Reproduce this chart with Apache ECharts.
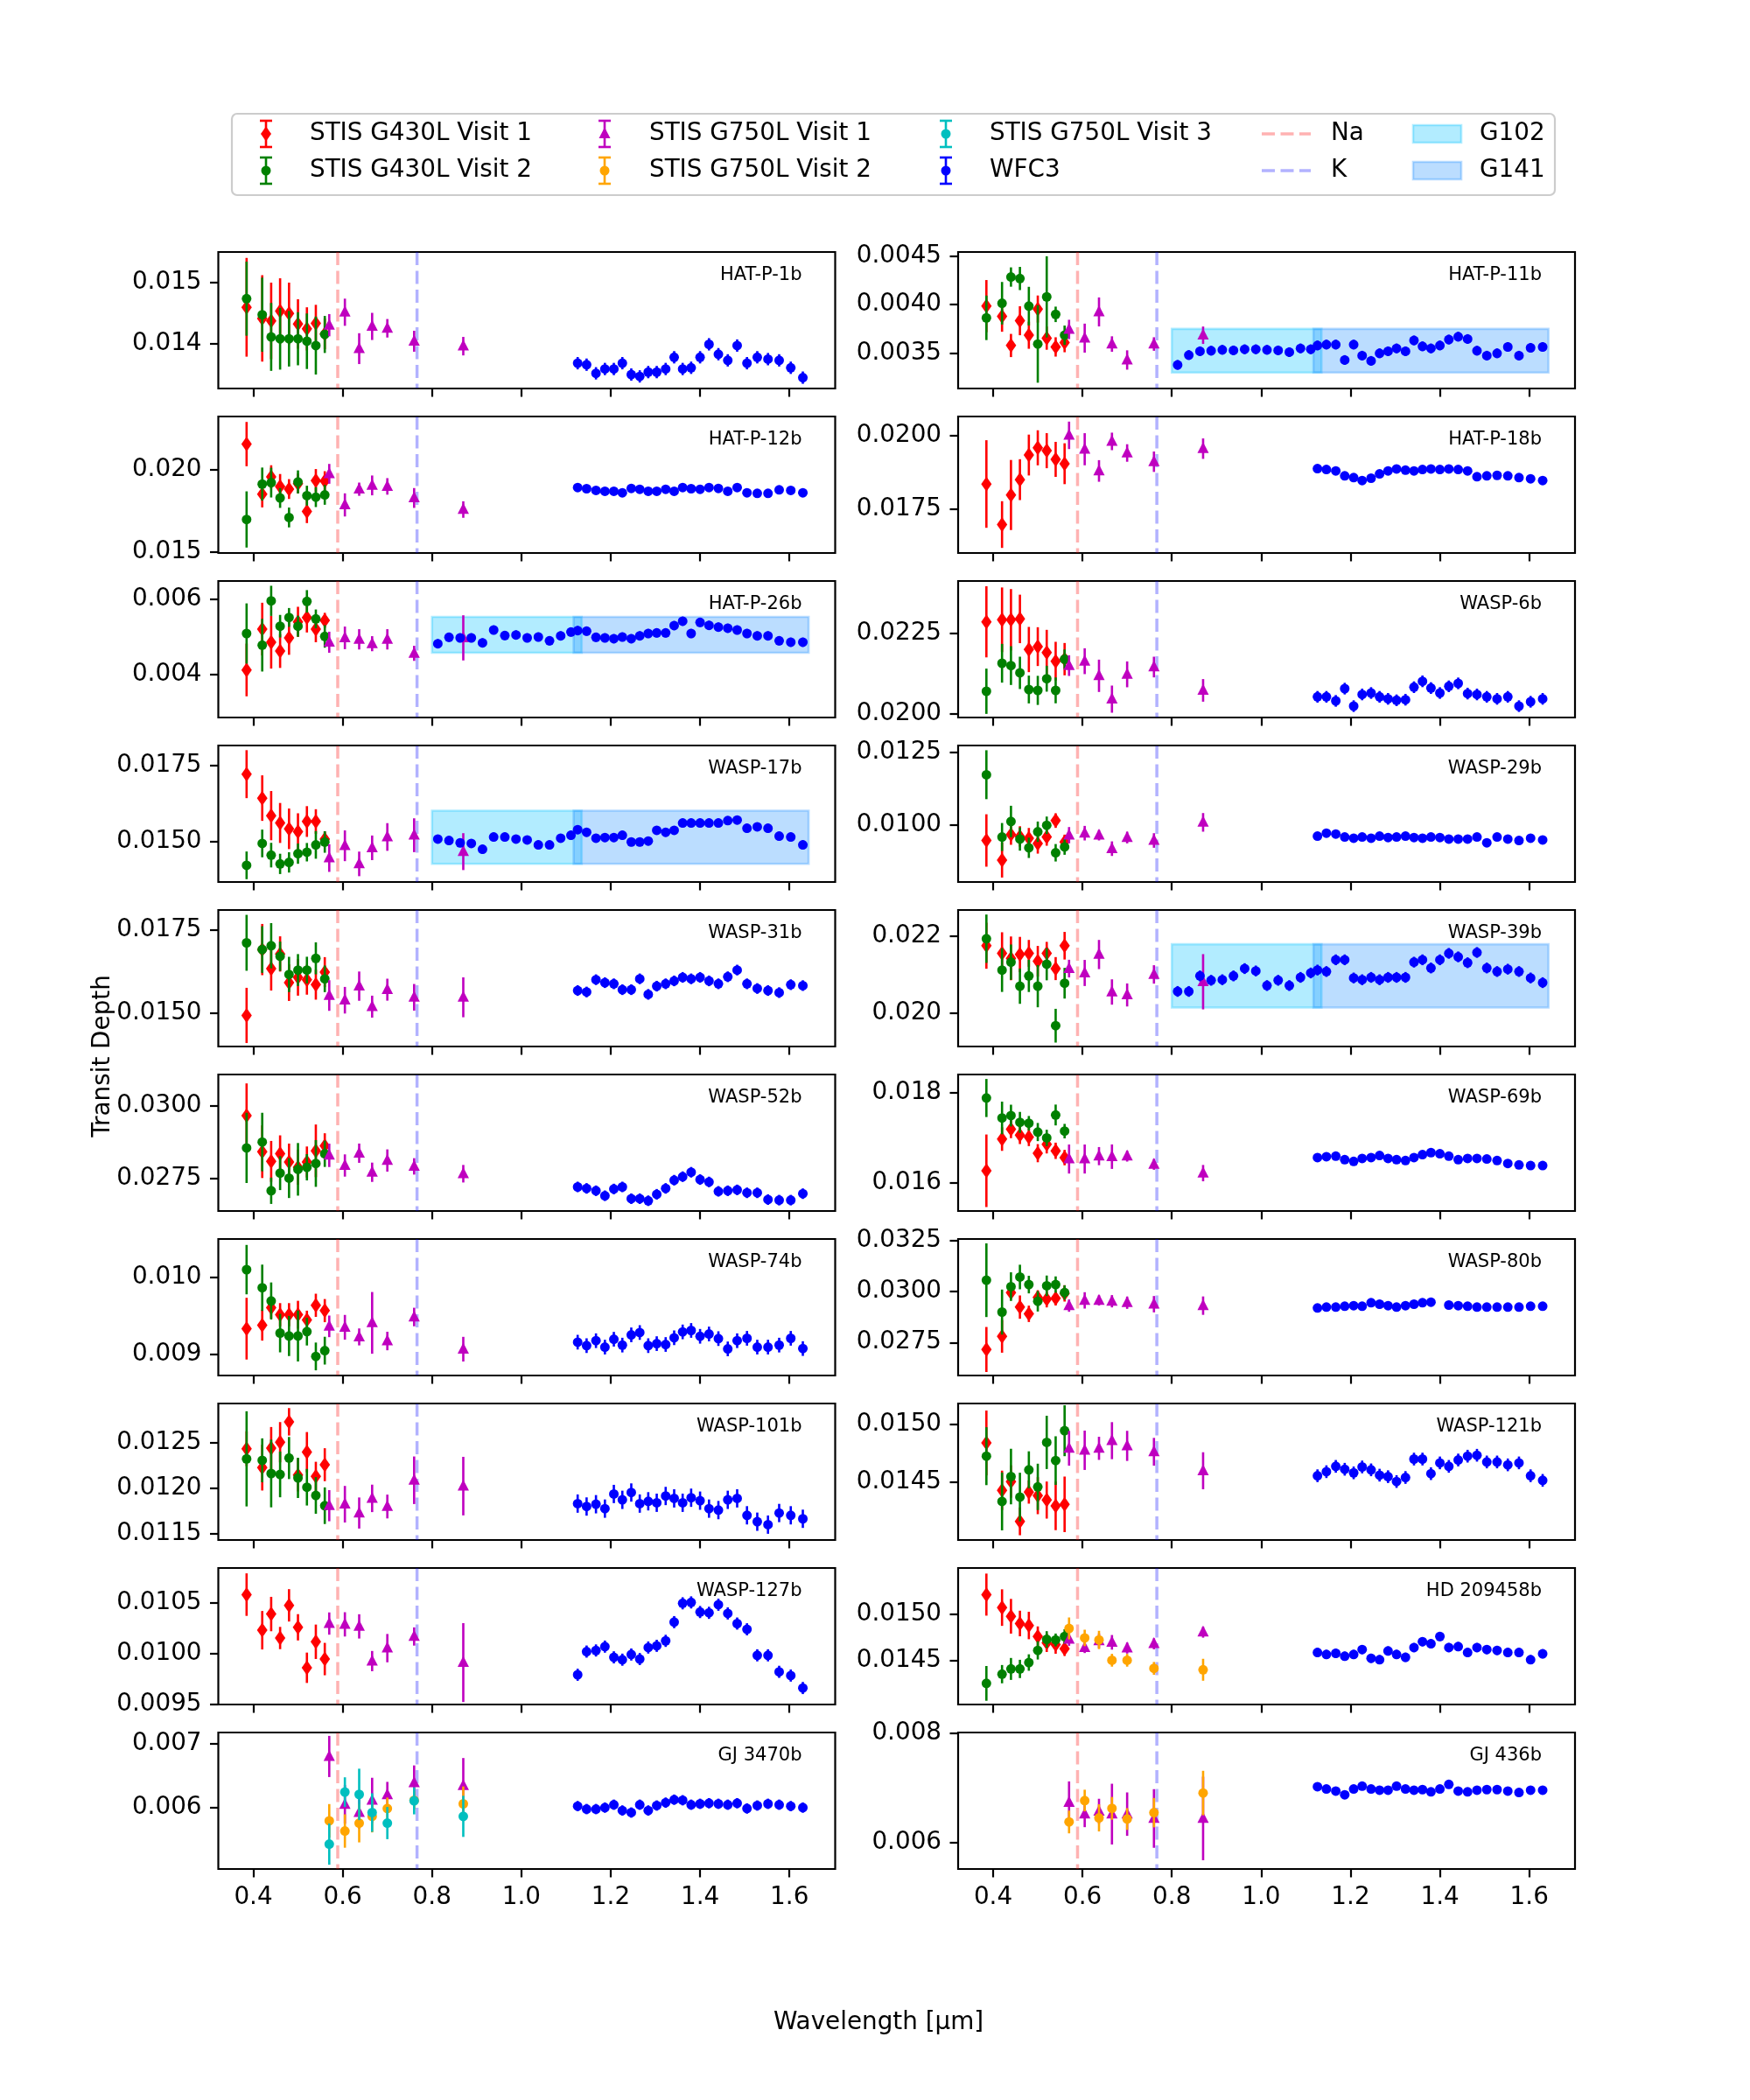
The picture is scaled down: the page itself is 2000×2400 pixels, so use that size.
<!DOCTYPE html>
<html>
<head>
<meta charset="utf-8">
<script src="https://cdn.jsdelivr.net/npm/echarts@6/dist/echarts.min.js"></script>
<style>
  html, body { margin: 0; padding: 0; background: #fff; }
  #chart { width: 2000px; height: 2400px; }
</style>
</head>
<body>
<div id="chart"></div>
<script>
// wavelength grids (micron)
const g430Wl = [0.385, 0.42, 0.44, 0.46, 0.48, 0.50, 0.52, 0.54, 0.56];
const g750Wl = [0.57, 0.605, 0.637, 0.666, 0.70, 0.76, 0.87];
const g102Wl = [0.813, 0.838, 0.863, 0.888, 0.913, 0.938, 0.963, 0.988, 1.013, 1.038, 1.063, 1.088, 1.111];
const wfcWl = [1.126, 1.146, 1.167, 1.187, 1.207, 1.226, 1.246, 1.265, 1.284, 1.303, 1.323, 1.342, 1.361,
  1.380, 1.400, 1.420, 1.441, 1.462, 1.483, 1.505, 1.528, 1.552, 1.577, 1.603, 1.630];
const xTicks = [0.4, 0.6, 0.8, 1.0, 1.2, 1.4, 1.6];
const naLine = 0.589;
const kLine = 0.7665;
const g102Band = [0.80, 1.135];
const g141Band = [1.117, 1.643];

// [depth, error] pairs for STIS, plain depths for WFC3
const hatP1b_g430v1 = [[0.01459,0.0008],[0.01441,0.0007],[0.01437,0.00062],[0.01453,0.00053],[0.01449,0.0005],[0.01432,0.0004],[0.01424,0.00035],[0.01433,0.0003],[0.01416,0.00025]];
const hatP1b_g430v2 = [[0.01473,0.0006],[0.01447,0.0006],[0.01411,0.00055],[0.01408,0.0005],[0.01408,0.00045],[0.01408,0.00043],[0.01404,0.00045],[0.01397,0.00047],[0.01415,0.0003]];
const hatP1b_g750v1 = [[0.0143,0.00018],[0.01451,0.00022],[0.01392,0.00025],[0.01428,0.00022],[0.01425,0.00015],[0.01404,0.00017],[0.01396,0.00015]];
const hatP1b_wfc = [0.013684,0.01366,0.01352,0.01359,0.01359,0.013684,0.0135,0.01347,0.01354,0.01354,0.01359,0.01378,0.01359,0.01361,0.01378,0.01399,0.01383,0.01373,0.01397,0.013684,0.01378,0.01375,0.01373,0.01361,0.01345];
const hatP1b_wfcErr = 0.0001;

const hatP11b_g430v1 = [[0.003985,0.00027],[0.00388,0.00016],[0.003578,0.00012],[0.003834,0.00015],[0.003684,0.00014],[0.003955,0.00014],[0.003654,0.00012],[0.003563,0.0001],[0.003608,0.0001]];
const hatP11b_g430v2 = [[0.003864,0.00023],[0.004015,0.00022],[0.004286,0.0001],[0.004271,0.00012],[0.003985,0.0002],[0.003593,0.0004],[0.004081,0.00042],[0.0039,0.00008],[0.003684,0.0001]];
const hatP11b_g750v1 = [[0.003744,0.0001],[0.003654,0.00015],[0.003925,0.00015],[0.003593,0.00008],[0.003428,0.0001],[0.003593,0.00007],[0.003684,0.00009]];
const hatP11b_g102 = [0.003377,0.003479,0.003518,0.003524,0.003533,0.003527,0.003539,0.003539,0.003533,0.003527,0.003509,0.003548,0.003539];
const hatP11b_wfc = [0.003578,0.003587,0.003587,0.003428,0.003587,0.003473,0.003419,0.003497,0.003518,0.003548,0.003518,0.00363,0.003569,0.003548,0.003578,0.003639,0.003669,0.003645,0.003524,0.003473,0.003497,0.003563,0.003473,0.003554,0.003563];
const hatP11b_wfcErr = 0.00005;
const hatP11b_box = [0.003298, 0.00375];

const hatP12b_g430v1 = [[0.02154,0.00134],[0.01851,0.0008],[0.01956,0.0007],[0.01898,0.00075],[0.01882,0.0006],[0.01915,0.0006],[0.01746,0.0007],[0.01933,0.0007],[0.0193,0.0006]];
const hatP12b_g430v2 = [[0.01698,0.0017],[0.01912,0.001],[0.01921,0.0009],[0.01828,0.0006],[0.0171,0.0006],[0.01925,0.0007],[0.01842,0.0006],[0.01833,0.0006],[0.01847,0.0006]];
const hatP12b_g750v1 = [[0.01974,0.0006],[0.01786,0.0007],[0.01881,0.0004],[0.01904,0.0006],[0.01898,0.0005],[0.01828,0.0006],[0.01758,0.0005]];
const hatP12b_wfc = [0.018912,0.018842,0.018737,0.018684,0.018684,0.018596,0.01886,0.018807,0.018684,0.018684,0.018807,0.018684,0.018912,0.018842,0.018807,0.018912,0.01886,0.018684,0.018912,0.018596,0.018561,0.018561,0.018772,0.018737,0.018596];
const hatP12b_wfcErr = 0.00018;

const hatP18b_g430v1 = [[0.018343,0.0015],[0.016954,0.0008],[0.017966,0.0012],[0.018492,0.0007],[0.019335,0.0007],[0.019583,0.0006],[0.019484,0.0006],[0.019187,0.0006],[0.019038,0.0007]];
const hatP18b_g750v1 = [[0.02001,0.00047],[0.019534,0.00055],[0.01879,0.00037],[0.019802,0.0003],[0.019405,0.0003],[0.019107,0.00035],[0.019554,0.00035]];
const hatP18b_wfc = [0.018869,0.01884,0.01879,0.018621,0.018562,0.018462,0.018542,0.01869,0.01879,0.018859,0.018819,0.01879,0.01884,0.018859,0.01884,0.018859,0.01884,0.01879,0.018591,0.018621,0.01864,0.018621,0.018562,0.018522,0.018462];
const hatP18b_wfcErr = 0.00012;

const hatP26b_g430v1 = [[0.004116,0.0007],[0.005202,0.0007],[0.004853,0.0007],[0.00462,0.00045],[0.004969,0.00045],[0.005395,0.0004],[0.005512,0.0004],[0.005202,0.00035],[0.005434,0.0002]];
const hatP26b_g430v2 = [[0.005085,0.0008],[0.004775,0.0007],[0.005953,0.0004],[0.005279,0.0003],[0.005512,0.00025],[0.005279,0.00028],[0.005938,0.0003],[0.005473,0.00025],[0.005008,0.0003]];
const hatP26b_g750v1 = [[0.004853,0.00028],[0.004969,0.0003],[0.00493,0.00027],[0.004814,0.0002],[0.00493,0.00027],[0.004558,0.0002],[0.004969,0.0006]];
const hatP26b_g102 = [0.004814,0.004984,0.004969,0.004969,0.004837,0.005178,0.005031,0.005047,0.004969,0.004992,0.004891,0.005023,0.005124];
const hatP26b_wfc = [0.005163,0.005147,0.004984,0.004969,0.004946,0.004992,0.004946,0.005023,0.005085,0.005101,0.005101,0.005295,0.005411,0.005085,0.00538,0.005302,0.005256,0.005225,0.005178,0.005085,0.005023,0.005023,0.004891,0.004853,0.004853];
const hatP26b_wfcErr = 0.00012;
const hatP26b_box = [0.004574, 0.005527];

const wasp6b_g430v1 = [[0.022843,0.0011],[0.022906,0.001],[0.022906,0.00095],[0.022933,0.00075],[0.021986,0.0007],[0.022076,0.0006],[0.021895,0.0007],[0.021625,0.0006],[0.021688,0.0005]];
const wasp6b_g430v2 = [[0.020695,0.0007],[0.021561,0.0006],[0.021489,0.0006],[0.021264,0.0005],[0.020749,0.00043],[0.020722,0.00045],[0.021083,0.0004],[0.020722,0.0004],[0.021688,0.0003]];
const wasp6b_g750v1 = [[0.021489,0.00032],[0.021625,0.0004],[0.021173,0.0005],[0.020451,0.00042],[0.021218,0.0004],[0.021444,0.00032],[0.020722,0.00035]];
const wasp6b_wfc = [0.020523,0.020523,0.020397,0.020776,0.020235,0.020596,0.020641,0.020523,0.02046,0.020415,0.020433,0.020821,0.021002,0.020794,0.020641,0.020848,0.020939,0.020623,0.020596,0.020523,0.02046,0.020523,0.020235,0.02037,0.02046];
const wasp6b_wfcErr = 0.00018;

const wasp17b_g430v1 = [[0.017205,0.00078],[0.016426,0.00074],[0.015856,0.0008],[0.015618,0.00065],[0.015428,0.00066],[0.015333,0.0006],[0.015665,0.0005],[0.015665,0.0004],[0.015095,0.00025]];
const wasp17b_g430v2 = [[0.01424,0.00045],[0.014952,0.00045],[0.014572,0.0004],[0.014287,0.00033],[0.014335,0.00033],[0.01462,0.00033],[0.014667,0.0003],[0.014905,0.00045],[0.015,0.00035]];
const wasp17b_g750v1 = [[0.014477,0.00045],[0.014876,0.0005],[0.014287,0.0004],[0.01481,0.0004],[0.015162,0.00045],[0.015219,0.00055],[0.014686,0.0006]];
const wasp17b_g102 = [0.015095,0.015048,0.014971,0.014952,0.014762,0.015162,0.015162,0.015095,0.015067,0.014905,0.014905,0.015124,0.015219];
const wasp17b_wfc = [0.015399,0.015314,0.015124,0.015143,0.015143,0.015219,0.015,0.015,0.015029,0.01538,0.015314,0.01538,0.015618,0.015618,0.015618,0.015618,0.015618,0.015694,0.015713,0.015447,0.015494,0.015447,0.01519,0.015162,0.014905];
const wasp17b_wfcErr = 0.00014;
const wasp17b_box = [0.014287, 0.016017];

const wasp29b_g430v1 = [[0.009468,0.0009],[0.008795,0.0006],[0.009669,0.00035],[0.009608,0.00035],[0.009548,0.00035],[0.009367,0.00035],[0.009588,0.0003],[0.010151,0.00025],[0.009418,0.00025]];
const wasp29b_g430v2 = [[0.011727,0.00084],[0.009588,0.00048],[0.01012,0.00054],[0.009518,0.0004],[0.009217,0.00035],[0.009769,0.00035],[0.00999,0.0003],[0.009046,0.0003],[0.009247,0.00027]];
const wasp29b_g750v1 = [[0.009649,0.00028],[0.009719,0.00025],[0.009649,0.00018],[0.009187,0.00025],[0.009568,0.0002],[0.009468,0.00025],[0.01009,0.00032]];
const wasp29b_wfc = [0.009618,0.009719,0.009689,0.009588,0.009548,0.009588,0.009548,0.009618,0.009568,0.009588,0.009618,0.009568,0.009548,0.009588,0.009568,0.009518,0.009518,0.009518,0.009588,0.009388,0.009588,0.009518,0.009468,0.009548,0.009488];
const wasp29b_wfcErr = 0.00012;

const wasp31b_g430v1 = [[0.01493,0.00083],[0.01691,0.00077],[0.016338,0.00066],[0.016778,0.00053],[0.015915,0.00055],[0.016074,0.00055],[0.016004,0.00045],[0.015854,0.00045],[0.016232,0.00045]];
const wasp31b_g430v2 = [[0.017113,0.00084],[0.01691,0.0007],[0.017025,0.00068],[0.016708,0.00044],[0.016162,0.00053],[0.016294,0.00048],[0.016294,0.0004],[0.016646,0.00048],[0.01603,0.0004]];
const wasp31b_g750v1 = [[0.015528,0.00046],[0.015387,0.0004],[0.01581,0.00044],[0.015194,0.00033],[0.015704,0.00033],[0.015475,0.0004],[0.015475,0.0006]];
const wasp31b_wfc = [0.015678,0.015634,0.016004,0.015915,0.01588,0.015704,0.015704,0.01603,0.015563,0.01581,0.01588,0.015968,0.016074,0.01603,0.016074,0.015968,0.01588,0.016092,0.016294,0.01588,0.015739,0.015678,0.015616,0.015854,0.015827];
const wasp31b_wfcErr = 0.00016;

const wasp39b_g430v1 = [[0.021756,0.0006],[0.021557,0.00055],[0.021427,0.00057],[0.021527,0.00046],[0.021557,0.00035],[0.021351,0.0004],[0.021557,0.0003],[0.02116,0.0003],[0.021756,0.00036]];
const wasp39b_g430v2 = [[0.021939,0.00063],[0.021122,0.00057],[0.021328,0.00046],[0.020702,0.00046],[0.02097,0.00042],[0.020702,0.00055],[0.021275,0.00042],[0.019672,0.00044],[0.020779,0.0004]];
const wasp39b_g750v1 = [[0.02116,0.00023],[0.021046,0.00034],[0.021527,0.00038],[0.02055,0.00033],[0.020473,0.0003],[0.021008,0.00024],[0.020817,0.00072]];
const wasp39b_g102 = [0.020565,0.020565,0.020969,0.020855,0.02087,0.020969,0.02116,0.021099,0.020718,0.020855,0.020718,0.020931,0.021046];
const wasp39b_wfc = [0.021122,0.021084,0.021389,0.021389,0.020916,0.02087,0.020931,0.02087,0.020931,0.020931,0.020931,0.021328,0.021389,0.021176,0.021389,0.021557,0.021466,0.021313,0.02158,0.021176,0.021084,0.021145,0.021084,0.020916,0.020794];
const wasp39b_wfcErr = 0.00014;
const wasp39b_box = [0.020145, 0.021794];

const wasp52b_g430v1 = [[0.029659,0.0011],[0.028424,0.0009],[0.028092,0.0007],[0.028353,0.00063],[0.028072,0.00063],[0.027892,0.0006],[0.028072,0.00053],[0.028454,0.0009],[0.028624,0.00043]];
const wasp52b_g430v2 = [[0.028554,0.0012],[0.028755,0.001],[0.027088,0.00045],[0.027691,0.00058],[0.02752,0.00068],[0.027821,0.0009],[0.027892,0.00045],[0.028022,0.0008],[0.028353,0.00045]];
const wasp52b_g750v1 = [[0.0283,0.0004],[0.027952,0.00038],[0.028373,0.00033],[0.027721,0.00033],[0.028123,0.00038],[0.027922,0.00028],[0.027671,0.0003]];
const wasp52b_wfc = [0.027219,0.027169,0.027088,0.026918,0.027149,0.027219,0.026817,0.026817,0.026747,0.026968,0.027169,0.02745,0.02757,0.027721,0.02747,0.02739,0.027068,0.027088,0.027118,0.027018,0.027018,0.026787,0.026767,0.026767,0.026988];
const wasp52b_wfcErr = 0.00018;

const wasp69b_g430v1 = [[0.016272,0.0008],[0.016971,0.00026],[0.017191,0.0002],[0.017061,0.0002],[0.017016,0.0002],[0.01666,0.0002],[0.016854,0.0002],[0.016712,0.00018],[0.016563,0.00017]];
const wasp69b_g430v2 = [[0.017877,0.00042],[0.017437,0.00036],[0.017489,0.00024],[0.01734,0.00023],[0.01732,0.00016],[0.017126,0.0002],[0.016997,0.00018],[0.017502,0.00023],[0.017146,0.00016]];
const wasp69b_g750v1 = [[0.016531,0.00032],[0.016531,0.00032],[0.016595,0.0002],[0.016583,0.00027],[0.016595,0.00012],[0.016414,0.00012],[0.01622,0.00018]];
const wasp69b_wfc = [0.016563,0.016583,0.016595,0.016518,0.016479,0.016544,0.016563,0.016608,0.016544,0.016518,0.016498,0.016563,0.016628,0.016673,0.016647,0.016595,0.016518,0.016544,0.016544,0.016531,0.016498,0.016434,0.016401,0.016388,0.016388];
const wasp69b_wfcErr = 0.00008;

const wasp74b_g430v1 = [[0.00933,0.0004],[0.009375,0.0002],[0.009602,0.00014],[0.009511,0.00015],[0.009511,0.00015],[0.009511,0.00018],[0.009443,0.00012],[0.009633,0.00015],[0.009564,0.00015]];
const wasp74b_g430v2 = [[0.010095,0.00032],[0.00986,0.0003],[0.009689,0.00024],[0.009273,0.00025],[0.009235,0.00026],[0.009235,0.00033],[0.009292,0.00018],[0.00897,0.00018],[0.009045,0.00018]];
const wasp74b_g750v1 = [[0.00936,0.00014],[0.009348,0.00016],[0.009223,0.00011],[0.009405,0.0004],[0.00917,0.00012],[0.009481,0.00012],[0.009064,0.00016]];
const wasp74b_wfc = [0.009155,0.00911,0.009174,0.009091,0.009193,0.009117,0.00925,0.00928,0.00911,0.009136,0.009125,0.009212,0.009288,0.009307,0.009231,0.009261,0.009201,0.009068,0.009174,0.009205,0.009091,0.009091,0.009117,0.009205,0.009072];
const wasp74b_wfcErr = 0.000095;

const wasp80b_g430v1 = [[0.027157,0.0011],[0.0278,0.0008],[0.029943,0.0003],[0.029229,0.00057],[0.0289,0.0004],[0.0297,0.00035],[0.029614,0.0004],[0.029657,0.00035],[0.0299,0.0004]];
const wasp80b_g430v2 = [[0.030543,0.0018],[0.028986,0.0011],[0.030229,0.0007],[0.0307,0.0006],[0.030329,0.00043],[0.029514,0.0005],[0.030271,0.0005],[0.030329,0.0004],[0.029943,0.00035]];
const wasp80b_g750v1 = [[0.0293,0.0003],[0.029557,0.0004],[0.029557,0.00025],[0.029514,0.0003],[0.029443,0.0003],[0.029371,0.0004],[0.0293,0.00045]];
const wasp80b_wfc = [0.029186,0.029229,0.029229,0.029271,0.0293,0.029271,0.029443,0.029371,0.0293,0.029229,0.0293,0.029371,0.029443,0.029471,null,0.029329,0.0293,0.029271,0.029229,0.029229,0.029229,0.029229,0.029229,0.029271,0.029271];
const wasp80b_wfcErr = 0.0002;

const wasp101b_g430v1 = [[0.012431,0.00019],[0.012224,0.00025],[0.012438,0.00023],[0.012502,0.00022],[0.012725,0.00015],[0.012144,0.00018],[0.012393,0.00022],[0.012128,0.00016],[0.012256,0.00018]];
const wasp101b_g430v2 = [[0.01232,0.00052],[0.012304,0.00024],[0.01216,0.00037],[0.01215,0.00025],[0.012329,0.00023],[0.012112,0.00022],[0.01201,0.0002],[0.01192,0.0002],[0.011808,0.0002]];
const wasp101b_g750v1 = [[0.011808,0.00017],[0.011824,0.0002],[0.011728,0.00017],[0.011888,0.00015],[0.011799,0.00013],[0.012086,0.00026],[0.012022,0.00032]];
const wasp101b_wfc = [0.011831,0.011799,0.011824,0.011776,0.011936,0.011872,0.011952,0.011831,0.011856,0.01184,0.011914,0.011888,0.01184,0.011895,0.011863,0.011776,0.01176,0.011872,0.011888,0.011703,0.011633,0.011601,0.011728,0.011703,0.011665];
const wasp101b_wfcErr = 0.0001;

const wasp121b_g430v1 = [[0.014841,0.00028],[0.014432,0.00017],[0.014508,0.00014],[0.014164,0.00012],[0.014417,0.0001],[0.014386,0.00016],[0.014348,0.00016],[0.014298,0.00021],[0.014311,0.00024]];
const wasp121b_g430v2 = [[0.014727,0.00025],[0.014336,0.00025],[0.014551,0.00024],[0.014374,0.00021],[0.014609,0.00016],[0.014462,0.0002],[0.014846,0.00023],[0.014689,0.00021],[0.014947,0.00022]];
const wasp121b_g750v1 = [[0.014795,0.00015],[0.014778,0.00017],[0.014795,0.0001],[0.014861,0.00016],[0.014816,0.00013],[0.014765,0.00012],[0.014601,0.00016]];
const wasp121b_wfc = [0.014558,0.014593,0.014639,0.014614,0.014583,0.014634,0.014609,0.014563,0.01455,0.014508,0.014543,0.014702,0.014702,0.014576,0.014669,0.014639,0.014694,0.014727,0.014735,0.014677,0.014677,0.014652,0.014669,0.014558,0.014518];
const wasp121b_wfcErr = 0.000055;

const wasp127b_g430v1 = [[0.010583,0.00021],[0.010231,0.00019],[0.010391,0.00017],[0.010154,0.00011],[0.010477,0.00016],[0.01026,0.00013],[0.00986,0.00015],[0.010117,0.00017],[0.009946,0.00016]];
const wasp127b_g750v1 = [[0.010297,0.00011],[0.010289,0.00012],[0.010269,0.00012],[0.009926,0.0001],[0.010054,0.00014],[0.010169,0.00009],[0.009911,0.00039]];
const wasp127b_wfc = [0.009791,0.01002,0.010031,0.010069,0.009963,0.00994,0.009991,0.009946,0.01006,0.010077,0.010126,0.010311,0.010497,0.010506,0.010411,0.010403,0.010483,0.010397,0.010297,0.01024,0.009983,0.009983,0.00982,0.009783,0.00966];
const wasp127b_wfcErr = 0.00006;

const hd209458b_g430v1 = [[0.015218,0.00023],[0.015076,0.0002],[0.014981,0.00019],[0.014902,0.00014],[0.01488,0.00015],[0.01476,0.00011],[0.01469,0.0001],[0.014671,0.0001],[0.014627,0.00008]];
const hd209458b_g430v2 = [[0.014247,0.00019],[0.014348,0.0001],[0.014405,0.00012],[0.014405,0.0001],[0.014475,0.00009],[0.014608,0.0001],[0.014728,0.00009],[0.014722,0.00007],[0.01476,0.00008]];
const hd209458b_g750v1 = [[0.014728,0.00007],[0.014639,0.00006],[0.014712,0.00008],[0.014696,0.00008],[0.014633,0.00006],[0.01468,0.00006],[0.014807,0.00006]];
const hd209458b_g750v2 = [[0.014848,0.00012],[0.014744,0.00009],[0.014722,0.0001],[0.0145,0.00007],[0.0145,0.00007],[0.014411,0.00007],[0.014396,0.00012]];
const hd209458b_wfc = [0.014585,0.014563,0.014576,0.014544,0.014563,0.014617,0.014522,0.014506,0.014601,0.014563,0.014532,0.014639,0.014703,0.01468,0.01476,0.014639,0.014649,0.014585,0.014639,0.014617,0.014608,0.014585,0.014585,0.014506,0.01457];
const hd209458b_wfcErr = 0.00005;

const gj3470b_g750v1 = [[0.006795,0.00032],[0.00605,0.0003],[0.005923,0.00025],[0.006114,0.00035],[0.0062,0.0002],[0.006386,0.00027],[0.006341,0.00043]];
const gj3470b_g750v2 = [[0.005795,0.00026],[0.005636,0.00026],[0.005759,0.0003],[0.005864,0.00025],[0.005986,0.00017],[0.006114,0.00014],[0.006059,0.00027]];
const gj3470b_g750v3 = [[0.005432,0.00032],[0.006241,0.00023],[0.006205,0.0004],[0.005923,0.0003],[0.005759,0.00025],[0.006105,0.00021],[0.005864,0.00032]];
const gj3470b_wfc = [0.006023,0.005977,0.005977,0.006,0.006045,0.005955,0.005923,0.006045,0.005955,0.006032,0.006077,0.006123,0.006114,0.006045,0.006059,0.006068,0.006059,0.006045,0.006068,0.005986,0.006032,0.006059,0.006045,0.006023,0.006];
const gj3470b_wfcErr = 0.00008;

const gj436b_g750v1 = [[0.006729,0.00039],[0.006516,0.00024],[0.006569,0.00023],[0.006516,0.00056],[0.006516,0.0004],[0.006436,0.00054],[0.006436,0.00077]];
const gj436b_g750v2 = [[0.006372,0.00021],[0.006766,0.0002],[0.006447,0.00025],[0.006622,0.00021],[0.006426,0.0002],[0.006543,0.00027],[0.006904,0.00041]];
const gj436b_wfc = [0.007021,0.006979,0.006941,0.006872,0.006979,0.007032,0.006979,0.006957,0.006957,0.007032,0.006979,0.006957,0.006968,0.006926,0.006979,0.007064,0.006941,0.006926,0.006957,0.006968,0.006968,0.006941,0.006915,0.006957,0.006957];
const gj436b_wfcErr = 0.00006;

// y ranges and tick labels per panel
const panels = [
  { name: 'HAT-P-1b', ylim: [0.013274, 0.015486], ticks: [0.014, 0.015], dec: 3,
    v1: hatP1b_g430v1, v2: hatP1b_g430v2, r1: hatP1b_g750v1, wfc: hatP1b_wfc, err: hatP1b_wfcErr },
  { name: 'HAT-P-11b', ylim: [0.003133, 0.004545], ticks: [0.0035, 0.004, 0.0045], dec: 4,
    v1: hatP11b_g430v1, v2: hatP11b_g430v2, r1: hatP11b_g750v1, g102: hatP11b_g102, wfc: hatP11b_wfc, err: hatP11b_wfcErr, box: hatP11b_box },
  { name: 'HAT-P-12b', ylim: [0.01495, 0.02321], ticks: [0.015, 0.02], dec: 3,
    v1: hatP12b_g430v1, v2: hatP12b_g430v2, r1: hatP12b_g750v1, wfc: hatP12b_wfc, err: hatP12b_wfcErr },
  { name: 'HAT-P-18b', ylim: [0.01598, 0.020655], ticks: [0.0175, 0.02], dec: 4,
    v1: hatP18b_g430v1, r1: hatP18b_g750v1, wfc: hatP18b_wfc, err: hatP18b_wfcErr },
  { name: 'HAT-P-26b', ylim: [0.002853, 0.00648], ticks: [0.004, 0.006], dec: 3,
    v1: hatP26b_g430v1, v2: hatP26b_g430v2, r1: hatP26b_g750v1, g102: hatP26b_g102, wfc: hatP26b_wfc, err: hatP26b_wfcErr, box: hatP26b_box },
  { name: 'WASP-6b', ylim: [0.019883, 0.024106], ticks: [0.02, 0.0225], dec: 4,
    v1: wasp6b_g430v1, v2: wasp6b_g430v2, r1: wasp6b_g750v1, wfc: wasp6b_wfc, err: wasp6b_wfcErr },
  { name: 'WASP-17b', ylim: [0.013698, 0.018137], ticks: [0.015, 0.0175], dec: 4,
    v1: wasp17b_g430v1, v2: wasp17b_g430v2, r1: wasp17b_g750v1, g102: wasp17b_g102, wfc: wasp17b_wfc, err: wasp17b_wfcErr, box: wasp17b_box },
  { name: 'WASP-29b', ylim: [0.008042, 0.01273], ticks: [0.01, 0.0125], dec: 4,
    v1: wasp29b_g430v1, v2: wasp29b_g430v2, r1: wasp29b_g750v1, wfc: wasp29b_wfc, err: wasp29b_wfcErr },
  { name: 'WASP-31b', ylim: [0.013996, 0.018099], ticks: [0.015, 0.0175], dec: 4,
    v1: wasp31b_g430v1, v2: wasp31b_g430v2, r1: wasp31b_g750v1, wfc: wasp31b_wfc, err: wasp31b_wfcErr },
  { name: 'WASP-39b', ylim: [0.01913, 0.022687], ticks: [0.02, 0.022], dec: 3,
    v1: wasp39b_g430v1, v2: wasp39b_g430v2, r1: wasp39b_g750v1, g102: wasp39b_g102, wfc: wasp39b_wfc, err: wasp39b_wfcErr, box: wasp39b_box },
  { name: 'WASP-52b', ylim: [0.026396, 0.031064], ticks: [0.0275, 0.03], dec: 4,
    v1: wasp52b_g430v1, v2: wasp52b_g430v2, r1: wasp52b_g750v1, wfc: wasp52b_wfc, err: wasp52b_wfcErr },
  { name: 'WASP-69b', ylim: [0.015385, 0.018395], ticks: [0.016, 0.018], dec: 3,
    v1: wasp69b_g430v1, v2: wasp69b_g430v2, r1: wasp69b_g750v1, wfc: wasp69b_wfc, err: wasp69b_wfcErr },
  { name: 'WASP-74b', ylim: [0.008723, 0.010492], ticks: [0.009, 0.01], dec: 3,
    v1: wasp74b_g430v1, v2: wasp74b_g430v2, r1: wasp74b_g750v1, wfc: wasp74b_wfc, err: wasp74b_wfcErr },
  { name: 'WASP-80b', ylim: [0.025886, 0.032557], ticks: [0.0275, 0.03, 0.0325], dec: 4,
    v1: wasp80b_g430v1, v2: wasp80b_g430v2, r1: wasp80b_g750v1, wfc: wasp80b_wfc, err: wasp80b_wfcErr },
  { name: 'WASP-101b', ylim: [0.011433, 0.012925], ticks: [0.0115, 0.012, 0.0125], dec: 4,
    v1: wasp101b_g430v1, v2: wasp101b_g430v2, r1: wasp101b_g750v1, wfc: wasp101b_wfc, err: wasp101b_wfcErr },
  { name: 'WASP-121b', ylim: [0.014003, 0.015182], ticks: [0.0145, 0.015], dec: 4,
    v1: wasp121b_g430v1, v2: wasp121b_g430v2, r1: wasp121b_g750v1, wfc: wasp121b_wfc, err: wasp121b_wfcErr },
  { name: 'WASP-127b', ylim: [0.009497, 0.010846], ticks: [0.0095, 0.01, 0.0105], dec: 4,
    v1: wasp127b_g430v1, r1: wasp127b_g750v1, wfc: wasp127b_wfc, err: wasp127b_wfcErr },
  { name: 'HD 209458b', ylim: [0.014016, 0.015509], ticks: [0.0145, 0.015], dec: 4,
    v1: hd209458b_g430v1, v2: hd209458b_g430v2, r1: hd209458b_g750v1, r2: hd209458b_g750v2, wfc: hd209458b_wfc, err: hd209458b_wfcErr },
  { name: 'GJ 3470b', ylim: [0.005045, 0.007168], ticks: [0.006, 0.007], dec: 3,
    r1: gj3470b_g750v1, r2: gj3470b_g750v2, r3: gj3470b_g750v3, wfc: gj3470b_wfc, err: gj3470b_wfcErr },
  { name: 'GJ 436b', ylim: [0.005505, 0.00802], ticks: [0.006, 0.008], dec: 3,
    r1: gj436b_g750v1, r2: gj436b_g750v2, wfc: gj436b_wfc, err: gj436b_wfcErr }
];

const FONT = 'DejaVu Sans';
const COL = { v1: '#ff0000', v2: '#008000', r1: '#bf00bf', r2: '#ffa500', r3: '#00bfbf', wfc: '#0000ff' };
const naColor = 'rgba(255,0,0,0.3)';
const kColor = 'rgba(0,0,255,0.3)';
const g102Fill = 'rgba(0,191,255,0.3)';
const g141Fill = 'rgba(30,144,255,0.3)';

const chart = echarts.init(document.getElementById('chart'), null, { renderer: 'canvas' });

function marker(kind, x, y, color, z) {
  if (kind === 'diamond') {
    return { type: 'polygon', z, shape: { points: [[x, y - 8.5], [x + 6, y], [x, y + 8.5], [x - 6, y]] }, style: { fill: color } };
  }
  if (kind === 'triangle') {
    return { type: 'polygon', z, shape: { points: [[x, y - 7.5], [x + 6.5, y + 5], [x - 6.5, y + 5]] }, style: { fill: color } };
  }
  return { type: 'circle', z, shape: { cx: x, cy: y, r: 5.5 }, style: { fill: color } };
}

function errSeries(gi, wl, pairs, kind, color, z) {
  const data = [];
  pairs.forEach((p, k) => { if (p && p[0] != null) data.push([wl[k], p[0], p[1]]); });
  return {
    type: 'custom', xAxisIndex: gi, yAxisIndex: gi, z, silent: true, data,
    renderItem(params, api) {
      const x = api.value(0), y = api.value(1), e = api.value(2);
      const c = api.coord([x, y]);
      const hi = api.coord([x, y + e]);
      const lo = api.coord([x, y - e]);
      const cs = params.coordSys;
      return {
        type: 'group',
        children: [
          { type: 'line', shape: { x1: c[0], y1: Math.max(hi[1], cs.y), x2: c[0], y2: Math.min(lo[1], cs.y + cs.height) },
            style: { stroke: color, lineWidth: 2.6 } },
          marker(kind, c[0], c[1], color)
        ]
      };
    }
  };
}

const grids = [], xAxes = [], yAxes = [], series = [], graphics = [];
const LEFTS = [249.5, 1095], WIDTH = 705, TOP0 = 288, STEP = 188, HEIGHT = 156;

panels.forEach((p, i) => {
  const col = i % 2, row = Math.floor(i / 2);
  const left = LEFTS[col], top = TOP0 + row * STEP;
  grids.push({ left, top, width: WIDTH, height: HEIGHT, show: true, borderColor: '#000', borderWidth: 2.2, backgroundColor: 'transparent' });
  xAxes.push({
    gridIndex: i, type: 'value', min: 0.3217, max: 1.7024,
    axisLine: { show: false }, splitLine: { show: false },
    axisTick: { show: true, length: 9.5, lineStyle: { color: '#000', width: 2.2 }, customValues: xTicks },
    axisLabel: { show: row === 9, customValues: xTicks, formatter: v => v.toFixed(1), fontSize: 27.8, fontFamily: FONT, color: '#000', margin: 19 }
  });
  yAxes.push({
    gridIndex: i, type: 'value', min: p.ylim[0], max: p.ylim[1],
    axisLine: { show: false }, splitLine: { show: false },
    axisTick: { show: true, length: 9.5, lineStyle: { color: '#000', width: 2.2 }, customValues: p.ticks },
    axisLabel: { customValues: p.ticks, formatter: v => v.toFixed(p.dec), fontSize: 27.8, fontFamily: FONT, color: '#000', margin: 19 }
  });

  if (p.box) {
    series.push({
      type: 'custom', xAxisIndex: i, yAxisIndex: i, z: 1, silent: true,
      data: [[g102Band[0], g102Band[1], p.box[0], p.box[1], 0], [g141Band[0], g141Band[1], p.box[0], p.box[1], 1]],
      renderItem(params, api) {
        const a = api.coord([api.value(0), api.value(3)]);
        const b = api.coord([api.value(1), api.value(2)]);
        const fill = api.value(4) === 0 ? g102Fill : g141Fill;
        return { type: 'rect', shape: { x: a[0], y: a[1], width: b[0] - a[0], height: b[1] - a[1] },
          style: { fill, stroke: fill, lineWidth: 2.6 } };
      }
    });
  }

  series.push({
    type: 'custom', xAxisIndex: i, yAxisIndex: i, z: 2, silent: true,
    data: [[naLine, p.ylim[0], 0], [kLine, p.ylim[0], 1]],
    renderItem(params, api) {
      const cs = params.coordSys;
      const x = api.coord([api.value(0), api.value(1)])[0];
      return { type: 'line', shape: { x1: x, y1: cs.y, x2: x, y2: cs.y + cs.height },
        style: { stroke: api.value(2) === 0 ? naColor : kColor, lineWidth: 3.5, lineDash: [15, 6.5] } };
    }
  });

  if (p.v1) series.push(errSeries(i, g430Wl, p.v1, 'diamond', COL.v1, 3));
  if (p.v2) series.push(errSeries(i, g430Wl, p.v2, 'circle', COL.v2, 4));
  if (p.r1) series.push(errSeries(i, g750Wl, p.r1, 'triangle', COL.r1, 5));
  if (p.r2) series.push(errSeries(i, g750Wl, p.r2, 'circle', COL.r2, 6));
  if (p.r3) series.push(errSeries(i, g750Wl, p.r3, 'circle', COL.r3, 7));
  if (p.g102) series.push(errSeries(i, g102Wl, p.g102.map(v => [v, p.err]), 'circle', COL.wfc, 8));
  series.push(errSeries(i, wfcWl, p.wfc.map(v => (v == null ? null : [v, p.err])), 'circle', COL.wfc, 8));

  graphics.push({ type: 'text', x: left + WIDTH - 38, y: top + 27, z: 20,
    style: { text: p.name, fontSize: 21, fontFamily: FONT, fill: '#000', align: 'right', verticalAlign: 'middle' } });
});

// figure labels
graphics.push({ type: 'text', x: 118, y: 1207, rotation: Math.PI / 2,
  style: { text: 'Transit Depth', fontSize: 27.8, fontFamily: FONT, fill: '#000', align: 'center', verticalAlign: 'middle' } });
graphics.push({ type: 'text', x: 1004, y: 2312,
  style: { text: 'Wavelength [μm]', fontSize: 27.8, fontFamily: FONT, fill: '#000', align: 'center', verticalAlign: 'middle' } });

// legend
const LEG_ROWS = [153, 195];
const LZ = 40;
graphics.push({ type: 'rect', shape: { x: 265, y: 130, width: 1512, height: 93, r: 6 },
  style: { fill: '#ffffff', stroke: '#cccccc', lineWidth: 2.2 }, z: 30 });
function legendErr(x, y, kind, color, label, tx) {
  graphics.push({ type: 'line', z: LZ, shape: { x1: x, y1: y - 15, x2: x, y2: y + 15 }, style: { stroke: color, lineWidth: 2.6 } });
  graphics.push({ type: 'line', z: LZ, shape: { x1: x - 7, y1: y - 15, x2: x + 7, y2: y - 15 }, style: { stroke: color, lineWidth: 2.6 } });
  graphics.push({ type: 'line', z: LZ, shape: { x1: x - 7, y1: y + 15, x2: x + 7, y2: y + 15 }, style: { stroke: color, lineWidth: 2.6 } });
  graphics.push(marker(kind, x, y, color, LZ + 1));
  graphics.push({ type: 'text', x: tx, y, z: LZ,
    style: { text: label, fontSize: 27.8, fontFamily: FONT, fill: '#000', align: 'left', verticalAlign: 'middle' } });
}
legendErr(304, LEG_ROWS[0], 'diamond', COL.v1, 'STIS G430L Visit 1', 354);
legendErr(304, LEG_ROWS[1], 'circle', COL.v2, 'STIS G430L Visit 2', 354);
legendErr(691, LEG_ROWS[0], 'triangle', COL.r1, 'STIS G750L Visit 1', 742);
legendErr(691, LEG_ROWS[1], 'circle', COL.r2, 'STIS G750L Visit 2', 742);
legendErr(1081, LEG_ROWS[0], 'circle', COL.r3, 'STIS G750L Visit 3', 1131);
legendErr(1081, LEG_ROWS[1], 'circle', COL.wfc, 'WFC3', 1131);
[[naColor, 'Na'], [kColor, 'K']].forEach(([c, t], k) => {
  graphics.push({ type: 'line', z: LZ, shape: { x1: 1442, y1: LEG_ROWS[k], x2: 1498, y2: LEG_ROWS[k] },
    style: { stroke: c, lineWidth: 3.5, lineDash: [15, 6.5] } });
  graphics.push({ type: 'text', x: 1521, y: LEG_ROWS[k], z: LZ,
    style: { text: t, fontSize: 27.8, fontFamily: FONT, fill: '#000', align: 'left', verticalAlign: 'middle' } });
});
[[g102Fill, 'G102'], [g141Fill, 'G141']].forEach(([c, t], k) => {
  graphics.push({ type: 'rect', z: LZ, shape: { x: 1615, y: LEG_ROWS[k] - 10, width: 55, height: 20 },
    style: { fill: c, stroke: c, lineWidth: 2.6 } });
  graphics.push({ type: 'text', x: 1691, y: LEG_ROWS[k], z: LZ,
    style: { text: t, fontSize: 27.8, fontFamily: FONT, fill: '#000', align: 'left', verticalAlign: 'middle' } });
});

chart.setOption({
  animation: false,
  backgroundColor: '#fff',
  grid: grids,
  xAxis: xAxes,
  yAxis: yAxes,
  series,
  graphic: graphics
});
</script>
</body>
</html>
